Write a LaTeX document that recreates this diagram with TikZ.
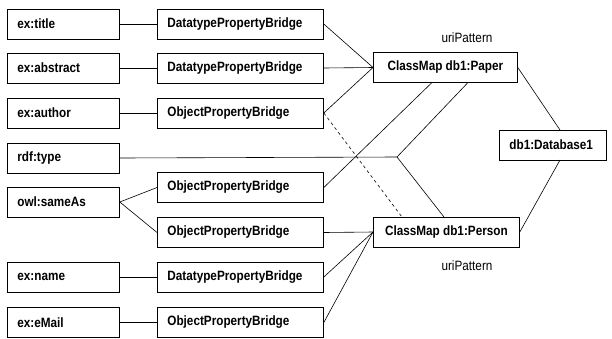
\documentclass[tikz,border=0pt]{standalone}
\usepackage{fontspec}
\setmainfont{Liberation Sans}[FakeStretch=0.87]
\usetikzlibrary{calc}
\begin{document}
\begin{tikzpicture}[x=1pt,y=-1pt,
  box/.style={draw,line width=0.8pt,rectangle,minimum height=30,inner ysep=0,inner xsep=10,anchor=west,align=left,font=\fontsize{13.5}{15}\selectfont\bfseries},
  lbox/.style={box,minimum width=112,text width=92},
  mbox/.style={box,minimum width=166,text width=146},
  cbox/.style={draw,line width=0.8pt,rectangle,minimum height=30,inner sep=0,anchor=west,font=\fontsize{13.5}{15}\selectfont\bfseries},
  conn/.style={line width=0.6pt},
  lab/.style={font=\fontsize{13.5}{15}\selectfont}]
\useasboundingbox (0,0) rectangle (612,338);
% left column
\node[lbox] (title) at (7,24) {ex:title};
\node[lbox] (abstract) at (7,68) {ex:abstract};
\node[lbox] (author) at (7,113) {ex:author};
\node[lbox] (rdftype) at (7,158) {rdf:type};
\node[lbox] (sameas) at (7,202) {owl:sameAs};
\node[lbox] (name) at (7,277) {ex:name};
\node[lbox] (email) at (7,322.5) {ex:eMail};
% middle column
\node[mbox] (btitle) at (157,24) {DatatypePropertyBridge};
\node[mbox] (babstract) at (157,68) {DatatypePropertyBridge};
\node[mbox] (bauthor) at (157,113) {ObjectPropertyBridge};
\node[mbox] (bsame1) at (157,187.5) {ObjectPropertyBridge};
\node[mbox] (bsame2) at (157,232.5) {ObjectPropertyBridge};
\node[mbox] (bname) at (157,277) {DatatypePropertyBridge};
\node[mbox] (bemail) at (157,322.5) {ObjectPropertyBridge};
% class maps
\node[cbox,minimum width=144] (paper) at (373,67.5) {ClassMap db1:Paper};
\node[cbox,minimum width=146] (person) at (373,232) {ClassMap db1:Person};
\node[cbox,minimum width=107,anchor=west,inner xsep=10,text width=87,align=left] (db) at (499,145) {db1:Database1};
\node[lab] (up1) at (467,38) {uriPattern};
\node[lab] (up2) at (467,266) {uriPattern};
% helper coordinates
\coordinate (J) at (397,157);
\coordinate (pb1) at (432,82.5);
\coordinate (pb2) at (468,82.5);
\coordinate (pt1) at (444,217);
\coordinate (pt2) at (402,217);
\coordinate (dbt) at (560,130);
\coordinate (dbb) at (560,160);
% left to middle
\draw[conn] (title.east) -- (btitle.west);
\draw[conn] (abstract.east) -- (babstract.west);
\draw[conn] (author.east) -- (bauthor.west);
\draw[conn] (sameas.east) -- (bsame1.west);
\draw[conn] (sameas.east) -- (bsame2.west);
\draw[conn] (name.east) -- (bname.west);
\draw[conn] (email.east) -- (bemail.west);
% to paper
\draw[conn] (btitle.east) -- (paper.west);
\draw[conn] (babstract.east) -- (paper.west);
\draw[conn] (bauthor.east) -- (paper.west);
\draw[conn] (bsame1.east) -- (pb1);
% rdf:type
\draw[conn] (rdftype.east) -- (J);
\draw[conn] (J) -- (pb2);
\draw[conn] (J) -- (pt1);
% dashed
\draw[conn,dashed] (bauthor.east) -- (pt2);
% to person
\draw[conn] (bsame2.east) -- (person.west);
\draw[conn] (bname.east) -- (person.west);
\draw[conn] (bemail.east) -- (person.west);
% database
\draw[conn] (paper.east) -- (dbt);
\draw[conn] (dbb) -- (person.east);
\end{tikzpicture}
\end{document}
